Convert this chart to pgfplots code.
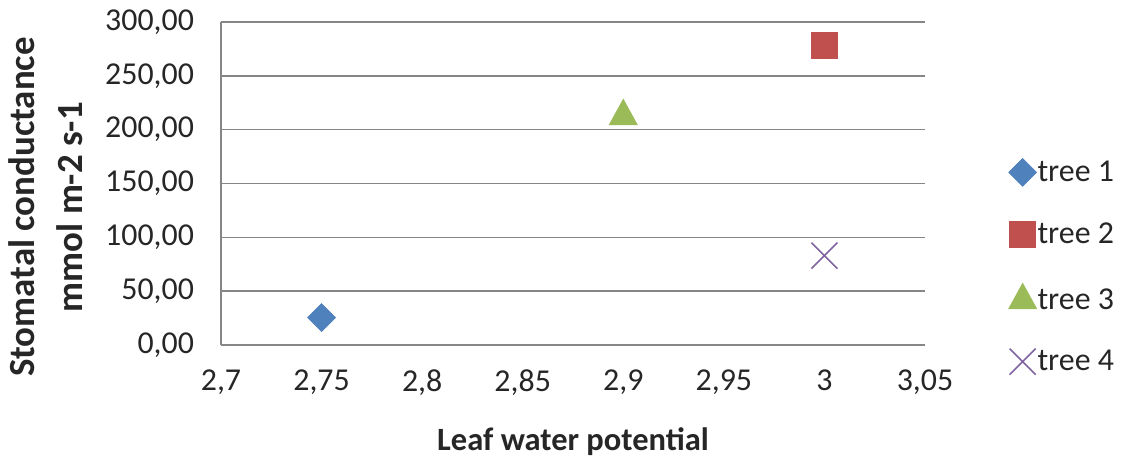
\documentclass[border=0pt]{standalone}
\usepackage{pgfplots}
\pgfplotsset{compat=1.18}
\usepackage{fontspec}
\setmainfont{Carlito}
\definecolor{cblue}{HTML}{4F81BD}
\definecolor{cred}{HTML}{C0504D}
\definecolor{cgreen}{HTML}{9BBB59}
\definecolor{cpurple}{HTML}{8064A2}
\definecolor{gridgray}{HTML}{868686}
\definecolor{txt}{HTML}{262626}
\pgfplotsset{
  mylegend/.style={legend image code/.code={\draw[##1] plot coordinates {(0bp,0bp)};}},
}
\begin{document}
\begin{tikzpicture}
\useasboundingbox (-110.5bp,-58.5bp) rectangle (450bp,172.5bp);
\begin{axis}[
    scale only axis,
    width=352bp,
    height=161.5bp,
    xmin=2.7, xmax=3.05,
    ymin=0, ymax=300,
    xtick={2.7,2.75,2.8,2.85,2.9,2.95,3,3.05},
    ytick={0,50,100,150,200,250,300},
    major tick length=0pt,
    axis lines*=left,
    axis line style={draw=gridgray, line width=0.75bp, -},
    ymajorgrids,
    major grid style={draw=gridgray, line width=0.75bp},
    /pgf/number format/assume math mode=true,
    xticklabel style={font=\fontsize{16}{19}\selectfont, text=txt, yshift=-9bp,
      /pgf/number format/.cd, fixed, precision=2, use comma},
    yticklabel style={font=\fontsize{16}{19}\selectfont, text=txt, xshift=-10bp,
      /pgf/number format/.cd, fixed, fixed zerofill, precision=2, use comma},
    xlabel={Leaf water potential},
    xlabel style={font=\fontsize{16.3}{19}\selectfont\bfseries, text=txt,
      at={(rel axis cs:0.5,-0.298)}, anchor=center},
    ylabel={Stomatal conductance\\mmol m-2 s-1},
    ylabel style={font=\fontsize{18.5}{24.5}\selectfont\bfseries, text=txt, align=center,
      at={(rel axis cs:-0.2490,0.427)}, anchor=center},
    legend style={draw=none, fill=none, font=\fontsize{16}{19}\selectfont, text=txt,
      at={(rel axis cs:1.11,0.591)}, anchor=north west, row sep=17.8bp,
      nodes={inner sep=0.5bp}, legend cell align=left},
]
\addplot[only marks, mylegend, mark=square*, mark size=4.9bp,
  mark options={fill=cblue, draw=cblue, rotate=45}] coordinates {(2.75,25.5)};
\addlegendentry{tree 1}
\addplot[only marks, mylegend, mark=square*, mark size=6.5bp,
  mark options={fill=cred, draw=cred}] coordinates {(3,278.5)};
\addlegendentry{tree 2}
\addplot[only marks, mylegend, mark=triangle*, mark size=8bp,
  mark options={fill=cgreen, draw=cgreen, yscale=1.05}] coordinates {(2.9,212.5)};
\addlegendentry{tree 3}
\addplot[only marks, mylegend, mark=x, mark size=9.2bp,
  mark options={draw=cpurple, line width=0.8bp}] coordinates {(3,83)};
\addlegendentry{tree 4}
\end{axis}
\end{tikzpicture}
\end{document}
